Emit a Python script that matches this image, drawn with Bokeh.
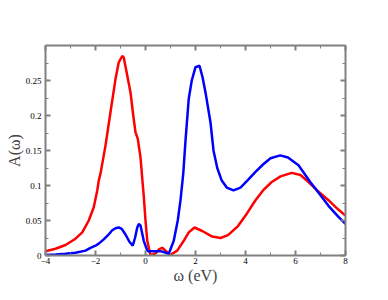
from bokeh.plotting import figure
from bokeh.models import LinearAxis, FixedTicker, Range1d
from bokeh.embed import file_html
from bokeh.resources import INLINE

# Red curve
red_x = [-4, -3.6, -3.2, -2.8, -2.53, -2.27, -2.07, -1.93, -1.87, -1.8, -1.6, -1.4, -1.2, -1.07,
         -0.93, -0.87, -0.73, -0.6, -0.49, -0.4, -0.31, -0.2, -0.13, -0.07, 0.0, 0.07, 0.2,
         0.4, 0.55, 0.67, 0.8, 1.0, 1.27, 1.53, 1.73, 1.96, 2.27, 2.67, 3.0, 3.3, 3.7, 4.0,
         4.4, 4.7, 5.05, 5.4, 5.85, 6.2, 6.52, 6.9, 7.32, 7.7, 8.0]
red_y = [0.006, 0.0096, 0.015, 0.024, 0.033, 0.05, 0.069, 0.093, 0.107, 0.117, 0.157, 0.205, 0.252, 0.276,
         0.285, 0.283, 0.257, 0.233, 0.2, 0.176, 0.167, 0.14, 0.11, 0.085, 0.05, 0.021, 0.0,
         0.003, 0.009, 0.011, 0.007, 0.001, 0.007, 0.021, 0.033, 0.040, 0.035, 0.027, 0.025, 0.029, 0.042, 0.057,
         0.079, 0.093, 0.105, 0.113, 0.118, 0.115, 0.105, 0.092, 0.079, 0.066, 0.057]

# Blue curve
blue_x = [-4, -3.6, -3.2, -2.8, -2.4, -2.2, -2, -1.87, -1.67, -1.5, -1.33, -1.2, -1.07, -0.95, -0.8,
          -0.65, -0.51, -0.42, -0.33, -0.27, -0.2, -0.07, 0.07, 0.13, 0.3, 0.6, 0.73, 0.93, 1.13,
          1.29, 1.4, 1.51, 1.6, 1.73, 1.85, 2.0, 2.16, 2.28, 2.4, 2.6, 2.72, 2.87, 3.05, 3.25,
          3.52, 3.8, 4.1, 4.39, 4.7, 5.0, 5.39, 5.7, 6.12, 6.59, 7.0, 7.32, 7.7, 8.0]
blue_y = [0.001, 0.0015, 0.0025, 0.004, 0.007, 0.011, 0.014, 0.017, 0.023, 0.029, 0.036, 0.039, 0.040, 0.038, 0.03,
          0.02, 0.014, 0.025, 0.04, 0.045, 0.043, 0.021, 0.007, 0.006, 0.006, 0.006, 0.005, 0.0025, 0.021,
          0.05, 0.079, 0.117, 0.164, 0.224, 0.25, 0.269, 0.271, 0.255, 0.233, 0.19, 0.15, 0.125, 0.107, 0.097,
          0.093, 0.097, 0.108, 0.119, 0.13, 0.139, 0.143, 0.14, 0.129, 0.105, 0.086, 0.071, 0.056, 0.045]

x_ticks = [-4, -2, 0, 2, 4, 6, 8]
x_minor = [-3, -1, 1, 3, 5, 7]
y_ticks = [0, 0.05, 0.1, 0.15, 0.2, 0.25]
y_minor = [0.025, 0.075, 0.125, 0.175, 0.225, 0.275]

SERIF = "Liberation Serif"
AXC = "#808080"

p = figure(width=380, height=292, frame_width=300, frame_height=210,
           x_range=Range1d(-4, 8), y_range=Range1d(0, 0.3),
           output_backend="svg", toolbar_location=None,
           x_axis_location=None, y_axis_location=None)
p.min_border_left = 45
p.min_border_top = 45
p.min_border_right = 35
p.min_border_bottom = 37
p.grid.visible = False
p.outline_line_color = None
p.background_fill_color = "white"

def style(ax, labels=True):
    ax.axis_line_color = AXC
    ax.axis_line_width = 2
    ax.major_tick_line_color = AXC
    ax.minor_tick_line_color = AXC
    ax.major_tick_line_width = 2
    ax.minor_tick_line_width = 1
    ax.major_tick_in = 5
    ax.major_tick_out = 0
    ax.minor_tick_in = 3
    ax.minor_tick_out = 0
    ax.major_label_text_font = SERIF
    ax.major_label_text_font_size = "9px"
    ax.major_label_text_color = "black"
    if not labels:
        ax.major_label_text_alpha = 0
        ax.major_label_standoff = 0

xb = LinearAxis(ticker=FixedTicker(ticks=x_ticks, minor_ticks=x_minor))
style(xb)
xb.major_label_standoff = 2
xb.axis_label = "ω (eV)"
xb.axis_label_text_font = SERIF
xb.axis_label_text_font_style = "normal"
xb.axis_label_text_font_size = "16px"
xb.axis_label_standoff = 0
p.add_layout(xb, "below")

yl = LinearAxis(ticker=FixedTicker(ticks=y_ticks, minor_ticks=y_minor))
style(yl)
yl.major_label_standoff = 4
yl.axis_label = "A(ω)"
yl.axis_label_text_font = SERIF
yl.axis_label_text_font_style = "normal"
yl.axis_label_text_font_size = "16px"
yl.axis_label_standoff = 0
p.add_layout(yl, "left")

xt = LinearAxis(ticker=FixedTicker(ticks=x_ticks, minor_ticks=x_minor))
style(xt, labels=False)
p.add_layout(xt, "above")

yr = LinearAxis(ticker=FixedTicker(ticks=y_ticks, minor_ticks=y_minor))
style(yr, labels=False)
p.add_layout(yr, "right")

p.line(red_x, red_y, line_color="#ff0000", line_width=2.5)
p.line(blue_x, blue_y, line_color="#0000ff", line_width=2.5)

open("out.html", "w").write(file_html(p, INLINE))
